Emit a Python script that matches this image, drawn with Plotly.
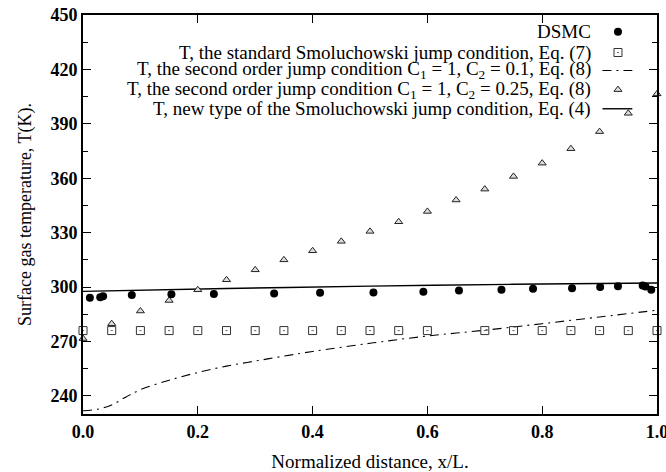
import plotly.graph_objects as go

# ---- data ----
dsmc_x = [0.012, 0.030, 0.035, 0.085, 0.154, 0.228, 0.333, 0.413, 0.506, 0.593,
          0.655, 0.729, 0.784, 0.852, 0.901, 0.932, 0.975, 0.980, 0.990]
dsmc_T = [294.1, 294.4, 294.9, 295.6, 296.0, 296.1, 296.5, 296.9, 297.0, 297.4,
          298.1, 298.5, 299.1, 299.4, 300.0, 300.5, 300.9, 300.3, 298.5]

std_x = [0.0, 0.05, 0.1, 0.15, 0.2, 0.25, 0.3, 0.35, 0.4, 0.45, 0.5, 0.55, 0.6,
         0.7, 0.75, 0.8, 0.85, 0.9, 0.95, 1.0]
std_T = [276.0] * len(std_x)

so01_x = [0.0, 0.025, 0.05, 0.075, 0.1, 0.15, 0.2, 0.25, 0.3, 0.35, 0.4, 0.5,
          0.6, 0.7, 0.8, 0.9, 1.0]
so01_T = [231.8, 232.6, 235.0, 239.4, 243.4, 248.6, 252.9, 256.4, 259.2, 261.9,
          264.5, 269.0, 273.0, 276.2, 279.8, 283.5, 287.2]

so025_x = [0.0, 0.05, 0.1, 0.15, 0.2, 0.25, 0.3, 0.35, 0.4, 0.45, 0.5, 0.55,
           0.6, 0.65, 0.7, 0.75, 0.8, 0.85, 0.9, 0.95, 1.0]
so025_T = [271.6, 279.8, 286.8, 292.6, 298.5, 304.0, 309.5, 315.0, 320.0, 325.2,
           330.7, 336.0, 341.7, 348.0, 354.0, 361.0, 368.3, 376.3, 385.7, 395.8, 406.5]

new_x = [0.0, 0.25, 0.5, 0.75, 1.0]
new_T = [297.6, 299.2, 300.5, 301.5, 302.2]

x_ticks = [0.0, 0.2, 0.4, 0.6, 0.8, 1.0]
x_tick_labels = ["0.0", "0.2", "0.4", "0.6", "0.8", "1.0"]
y_ticks = [240, 270, 300, 330, 360, 390, 420, 450]

legend_labels = [
    "DSMC",
    "T, the standard Smoluchowski jump condition, Eq. (7)",
    "T, the second order jump condition C<sub>1</sub> = 1, C<sub>2</sub> = 0.1, Eq. (8)",
    "T, the second order jump condition C<sub>1</sub> = 1, C<sub>2</sub> = 0.25, Eq. (8)",
    "T, new type of the Smoluchowski jump condition, Eq. (4)",
]

FONT = "Liberation Serif, Times New Roman, serif"
DASHDOT = "9px,5px,2px,5px"

fig = go.Figure()

fig.add_trace(go.Scatter(x=new_x, y=new_T, mode="lines", line=dict(color="black", width=1.4,
                         shape="spline"), showlegend=False, cliponaxis=False))
fig.add_trace(go.Scatter(x=so01_x, y=so01_T, mode="lines",
                         line=dict(color="black", width=1.1, dash=DASHDOT, shape="spline"),
                         showlegend=False))
fig.add_trace(go.Scatter(x=std_x, y=std_T, mode="markers",
                         marker=dict(symbol="square-open-dot", size=8, color="#333",
                                     line=dict(width=1, color="#333")),
                         showlegend=False, cliponaxis=False))
fig.add_trace(go.Scatter(x=so025_x, y=so025_T, mode="markers",
                         marker=dict(symbol="triangle-up", size=7, color="#ddd",
                                     line=dict(width=1, color="#222")),
                         showlegend=False, cliponaxis=False))
fig.add_trace(go.Scatter(x=dsmc_x, y=dsmc_T, mode="markers",
                         marker=dict(symbol="circle", size=8, color="black"),
                         showlegend=False, cliponaxis=False))

# ---- custom gnuplot-like legend (text right-aligned, sample on the right) ----
row_y = [0.958, 0.906, 0.861, 0.813, 0.765]
text_x = 0.888
mark_x = 0.932
line_x = [0.905, 0.957]
for lab, yy in zip(legend_labels, row_y):
    fig.add_annotation(x=text_x, y=yy, xref="paper", yref="paper", text=lab,
                       showarrow=False, xanchor="right", yanchor="middle",
                       font=dict(family=FONT, size=19, color="black"))

fig.add_trace(go.Scatter(x=[mark_x], y=[row_y[0]], xaxis="x2", yaxis="y2", mode="markers",
                         marker=dict(symbol="circle", size=8, color="black"),
                         showlegend=False, cliponaxis=False, hoverinfo="skip"))
fig.add_trace(go.Scatter(x=[mark_x], y=[row_y[1]], xaxis="x2", yaxis="y2", mode="markers",
                         marker=dict(symbol="square-open-dot", size=8, color="#333",
                                     line=dict(width=1, color="#333")),
                         showlegend=False, cliponaxis=False, hoverinfo="skip"))
fig.add_trace(go.Scatter(x=line_x, y=[row_y[2]] * 2, xaxis="x2", yaxis="y2", mode="lines",
                         line=dict(color="black", width=1.1, dash=DASHDOT),
                         showlegend=False, cliponaxis=False, hoverinfo="skip"))
fig.add_trace(go.Scatter(x=[mark_x], y=[row_y[3]], xaxis="x2", yaxis="y2", mode="markers",
                         marker=dict(symbol="triangle-up", size=7, color="#ddd",
                                     line=dict(width=1, color="#222")),
                         showlegend=False, cliponaxis=False, hoverinfo="skip"))
fig.add_trace(go.Scatter(x=line_x, y=[row_y[4]] * 2, xaxis="x2", yaxis="y2", mode="lines",
                         line=dict(color="black", width=1.4),
                         showlegend=False, cliponaxis=False, hoverinfo="skip"))

axis_common = dict(showline=True, linecolor="black", linewidth=2, mirror="ticks",
                   ticks="inside", ticklen=8, tickwidth=1, tickcolor="black",
                   showgrid=False, zeroline=False, ticklabeloverflow="allow",
                   automargin=False,
                   tickfont=dict(family=FONT, size=18, color="black", weight="bold"))

fig.update_layout(
    width=666, height=472,
    margin=dict(l=83, r=9, t=15, b=58),
    paper_bgcolor="white", plot_bgcolor="white",
    xaxis=dict(range=[0, 1], tickmode="array", tickvals=x_ticks, ticktext=x_tick_labels,
               title=dict(text="Normalized distance, x/L.", standoff=20,
                          font=dict(family=FONT, size=19, color="black")),
               **axis_common),
    yaxis=dict(range=[230, 450], tickmode="array", tickvals=y_ticks,
               minor=dict(dtick=15, tick0=240, ticks="inside", ticklen=5,
                          tickcolor="black", tickwidth=1),
               title=dict(text="Surface gas temperature, T(K).", standoff=14,
                          font=dict(family=FONT, size=18, color="black")),
               **axis_common),
    xaxis2=dict(range=[0, 1], overlaying="x", visible=False, fixedrange=True),
    yaxis2=dict(range=[0, 1], overlaying="y", visible=False, fixedrange=True),
    showlegend=False,
)

fig.write_html("out.html")
